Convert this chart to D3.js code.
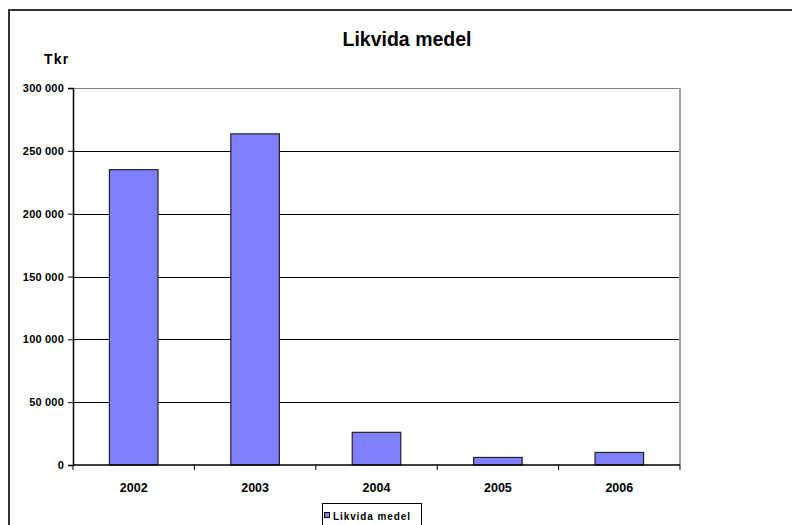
<!DOCTYPE html>
<html>
<head>
<meta charset="utf-8">
<script src="https://cdn.jsdelivr.net/npm/d3@7/dist/d3.min.js"></script>
<style>
  body { margin: 0; background: #fff; }
  text { font-family: "Liberation Sans", Arial, sans-serif; font-weight: bold; fill: #000; }
</style>
</head>
<body>
<div id="chart"></div>
<script>
var years = ["2002", "2003", "2004", "2005", "2006"];
var values = [235000, 263500, 26000, 6000, 10000];
var yTicks = [0, 50000, 100000, 150000, 200000, 250000, 300000];
var seriesName = "Likvida medel";

var W = 792, H = 525;
var margin = {top: 88, right: 112, bottom: 60, left: 73},
    width = W - margin.left - margin.right,
    height = H - margin.top - margin.bottom;

var svg = d3.select("#chart").append("svg")
    .attr("width", W)
    .attr("height", H);

// outer frame (right/bottom run off the page)
svg.append("rect")
    .attr("x", 9).attr("y", 10)
    .attr("width", W + 20).attr("height", H + 20)
    .attr("fill", "none")
    .attr("stroke", "#333")
    .attr("stroke-width", 2);

var x = d3.scaleBand().domain(years).range([0, width]).paddingInner(0.6).paddingOuter(0.3);
var xb = d3.scaleBand().domain(years).range([0, width]);
var y = d3.scaleLinear().domain([0, 300000]).range([height, 0]);

var fmt = function(d) { return d3.format(",")(d).replace(/,/g, " "); };

var g = svg.append("g")
    .attr("transform", "translate(" + margin.left + "," + margin.top + ")");

// gridlines
g.append("g").selectAll("line")
    .data(yTicks.filter(function(d) { return d > 0 && d < 300000; }))
    .enter().append("line")
    .attr("x1", 0).attr("x2", width)
    .attr("y1", function(d) { return Math.round(y(d)) + 0.5; })
    .attr("y2", function(d) { return Math.round(y(d)) + 0.5; })
    .attr("stroke", "#000");

// plot border top/right
g.append("line").attr("x1", 0).attr("x2", width).attr("y1", 0.5).attr("y2", 0.5).attr("stroke", "#808080");
g.append("line").attr("x1", width).attr("x2", width).attr("y1", 0).attr("y2", height).attr("stroke", "#a0a0a0").attr("stroke-width", 2);

// bars
g.append("g").selectAll("rect")
    .data(values)
    .enter().append("rect")
    .attr("x", function(d, i) { return x(years[i]); })
    .attr("y", function(d) { return y(d); })
    .attr("width", x.bandwidth())
    .attr("height", function(d) { return height - y(d); })
    .attr("fill", "#8080ff")
    .attr("stroke", "#222")
    .attr("stroke-width", 1.2);

// y axis
var yAxis = d3.axisLeft(y).tickValues(yTicks).tickFormat(fmt).tickSize(5).tickPadding(4);
var ya = g.append("g").call(yAxis);
ya.select(".domain").attr("stroke", "#000").attr("stroke-width", 1.5);
ya.selectAll(".tick line").attr("stroke", "#000");
ya.selectAll("text").style("font-size", "11px").style("letter-spacing", "0.2px");

// x axis with ticks between categories
var xa = g.append("g").attr("transform", "translate(0," + height + ")");
xa.append("line").attr("x1", 0).attr("x2", width).attr("y1", 0).attr("y2", 0).attr("stroke", "#000").attr("stroke-width", 1.5);
xa.selectAll(".xt")
    .data(years.concat(["end"]))
    .enter().append("line")
    .attr("class", "xt")
    .attr("x1", function(d, i) { return i * xb.step(); })
    .attr("x2", function(d, i) { return i * xb.step(); })
    .attr("y1", 0).attr("y2", 5)
    .attr("stroke", "#000");
xa.selectAll(".xl")
    .data(years)
    .enter().append("text")
    .attr("class", "xl")
    .attr("x", function(d) { return xb(d) + xb.bandwidth() / 2; })
    .attr("y", 27)
    .attr("text-anchor", "middle")
    .style("font-size", "12.5px")
    .text(function(d) { return d; });

// title and unit
svg.append("text")
    .attr("x", 407).attr("y", 46)
    .attr("text-anchor", "middle")
    .style("font-size", "19.5px")
    .text(seriesName);

svg.append("text")
    .attr("x", 44).attr("y", 64)
    .style("font-size", "14px")
    .style("letter-spacing", "1.2px")
    .text("Tkr");

// legend
var lg = svg.append("g").attr("transform", "translate(322,503)");
lg.append("rect").attr("x", 0.5).attr("y", 0.5).attr("width", 99).attr("height", 30)
    .attr("fill", "#fff").attr("stroke", "#000");
lg.append("rect").attr("x", 2.5).attr("y", 9.5).attr("width", 5).attr("height", 5)
    .attr("fill", "#8080ff").attr("stroke", "#000");
lg.append("text").attr("x", 11).attr("y", 17)
    .style("font-size", "10px")
    .style("letter-spacing", "0.9px")
    .text(seriesName);
</script>
</body>
</html>
